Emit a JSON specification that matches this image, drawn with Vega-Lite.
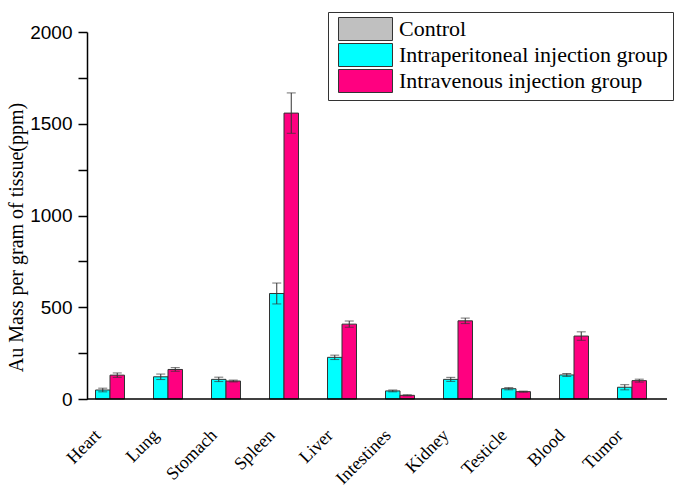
{
  "$schema": "https://vega.github.io/schema/vega-lite/v6.json",
  "autosize": "none",
  "width": 580,
  "height": 367,
  "padding": {"left": 87, "top": 32, "right": 19, "bottom": 90},
  "background": "white",
  "config": {
    "view": {"stroke": null},
    "axis": {"domainColor": "black", "domainWidth": 1.5, "tickColor": "black", "tickWidth": 1.5, "labelColor": "black", "titleColor": "black", "grid": false}
  },
  "data": {
    "values": [
      {"organ": "Heart", "group": "Intraperitoneal injection group", "value": 49, "lo": 39, "hi": 59},
      {"organ": "Heart", "group": "Intravenous injection group", "value": 130, "lo": 118, "hi": 142},
      {"organ": "Lung", "group": "Intraperitoneal injection group", "value": 121, "lo": 106, "hi": 136},
      {"organ": "Lung", "group": "Intravenous injection group", "value": 161, "lo": 151, "hi": 171},
      {"organ": "Stomach", "group": "Intraperitoneal injection group", "value": 107, "lo": 95, "hi": 119},
      {"organ": "Stomach", "group": "Intravenous injection group", "value": 98, "lo": 93, "hi": 103},
      {"organ": "Spleen", "group": "Intraperitoneal injection group", "value": 575, "lo": 518, "hi": 632},
      {"organ": "Spleen", "group": "Intravenous injection group", "value": 1558, "lo": 1448, "hi": 1668},
      {"organ": "Liver", "group": "Intraperitoneal injection group", "value": 227, "lo": 215, "hi": 239},
      {"organ": "Liver", "group": "Intravenous injection group", "value": 408, "lo": 391, "hi": 425},
      {"organ": "Intestines", "group": "Intraperitoneal injection group", "value": 44, "lo": 39, "hi": 49},
      {"organ": "Intestines", "group": "Intravenous injection group", "value": 20, "lo": 17, "hi": 23},
      {"organ": "Kidney", "group": "Intraperitoneal injection group", "value": 107, "lo": 96, "hi": 118},
      {"organ": "Kidney", "group": "Intravenous injection group", "value": 426, "lo": 411, "hi": 441},
      {"organ": "Testicle", "group": "Intraperitoneal injection group", "value": 56, "lo": 50, "hi": 62},
      {"organ": "Testicle", "group": "Intravenous injection group", "value": 40, "lo": 37, "hi": 43},
      {"organ": "Blood", "group": "Intraperitoneal injection group", "value": 131, "lo": 123, "hi": 139},
      {"organ": "Blood", "group": "Intravenous injection group", "value": 343, "lo": 320, "hi": 366},
      {"organ": "Tumor", "group": "Intraperitoneal injection group", "value": 64, "lo": 50, "hi": 78},
      {"organ": "Tumor", "group": "Intravenous injection group", "value": 100, "lo": 92, "hi": 108}
    ]
  },
  "layer": [
    {
      "encoding": {
        "x": {
          "field": "organ", "type": "nominal", "sort": null,
          "scale": {"range": [-6, 574], "paddingInner": 0, "paddingOuter": 0},
          "axis": {
            "title": null, "ticks": false, "domain": false, "labelAngle": -45,
            "labelFont": "Liberation Serif", "labelFontSize": 18, "labelPadding": 27, "labelOffset": -18
          }
        },
        "xOffset": {
          "field": "group", "type": "nominal",
          "scale": {"domain": ["Intraperitoneal injection group", "Intravenous injection group"], "paddingInner": 0, "paddingOuter": 1.4167}
        }
      },
      "layer": [
        {
          "mark": {"type": "bar", "stroke": "#333333", "strokeWidth": 1},
          "encoding": {
            "y": {
              "field": "value", "type": "quantitative",
              "scale": {"domain": [0, 2000], "nice": false},
              "axis": {
                "title": "Au Mass per gram of tissue(ppm)",
                "titleFont": "Liberation Serif", "titleFontSize": 20, "titleFontWeight": "normal",
                "titleX": -81, "titleY": 205, "titleAngle": -90, "titleAlign": "center", "titleBaseline": "top",
                "values": [0, 250, 500, 750, 1000, 1250, 1500, 1750, 2000],
                "labelExpr": "datum.value % 500 === 0 ? datum.label : ''",
                "format": "d",
                "labelFont": "Liberation Sans", "labelFontSize": 19, "labelPadding": 6, "tickSize": 9
              }
            },
            "color": {
              "field": "group", "type": "nominal",
              "scale": {"domain": ["Control", "Intraperitoneal injection group", "Intravenous injection group"], "range": ["#C0C0C0", "#00FFFF", "#FF0080"]},
              "legend": {
                "title": null, "orient": "none", "legendX": 241, "legendY": -20,
                "padding": 5, "strokeColor": "#333333", "fillColor": "white",
                "symbolType": "M-0.565,-1H4.13V1H-0.565Z", "symbolSize": 529,
                "symbolStrokeColor": "#333333", "symbolStrokeWidth": 1,
                "labelFont": "Liberation Serif", "labelFontSize": 22, "labelColor": "black",
                "labelOffset": 42, "labelLimit": 0, "rowPadding": -2
              }
            }
          }
        },
        {
          "mark": {"type": "rule", "color": "#333333", "strokeWidth": 1},
          "encoding": {
            "y": {"field": "lo", "type": "quantitative"},
            "y2": {"field": "hi"}
          }
        },
        {
          "mark": {"type": "tick", "color": "#333333", "thickness": 1, "size": 9},
          "encoding": {"y": {"field": "lo", "type": "quantitative"}}
        },
        {
          "mark": {"type": "tick", "color": "#333333", "thickness": 1, "size": 9},
          "encoding": {"y": {"field": "hi", "type": "quantitative"}}
        }
      ]
    },
    {
      "data": {"values": [{"base": 0}]},
      "mark": {"type": "rule", "color": "black", "strokeWidth": 1.5},
      "encoding": {"y": {"field": "base", "type": "quantitative"}}
    }
  ]
}
